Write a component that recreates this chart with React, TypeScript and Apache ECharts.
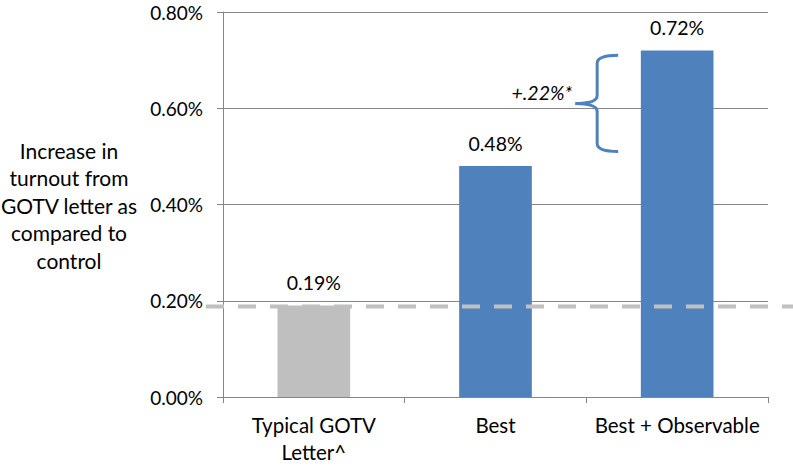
import React, { useEffect, useRef } from 'react';
import * as echarts from 'echarts';

const categories = ['Typical GOTV\nLetter^', 'Best', 'Best + Observable'];
const values = [0.19, 0.48, 0.72];
const barColors = ['#bfbfbf', '#4f81bd', '#4f81bd'];
const yMin = 0;
const yMax = 0.8;
const yInterval = 0.2;
const baselineValue = 0.19;
const braceRange = [0.51, 0.71];
const braceLabel = '+.22%*';
const yTitle = 'Increase in\nturnout from\nGOTV letter as\ncompared to\ncontrol';

const FONT = 'Lato, "Noto Sans", sans-serif';

export default function App() {
  const ref = useRef<HTMLDivElement>(null);
  useEffect(() => {
    document.body.style.margin = '0';
    if (!ref.current) return;
    const chart = echarts.init(ref.current, null, { renderer: 'svg' });
    chart.setOption({
      animation: false,
      grid: { left: 223, right: 25, top: 12, bottom: 71, containLabel: false },
      xAxis: {
        type: 'category',
        data: categories,
        axisLine: { lineStyle: { color: '#868686', width: 1 } },
        axisTick: { show: true, length: 6, lineStyle: { color: '#868686' } },
        axisLabel: { interval: 0, color: '#000', fontFamily: FONT, fontSize: 20.5, lineHeight: 27, margin: 14 },
      },
      yAxis: {
        type: 'value',
        min: yMin,
        max: yMax,
        interval: yInterval,
        axisLine: { show: true, lineStyle: { color: '#868686', width: 1 } },
        axisTick: { show: true, length: 6, lineStyle: { color: '#868686' } },
        splitLine: { lineStyle: { color: '#868686', width: 1 } },
        axisLabel: {
          color: '#000', fontFamily: FONT, fontSize: 19, margin: 20,
          formatter: (v: number) => v.toFixed(2) + '%',
        },
      },
      series: [
        {
          type: 'bar',
          barWidth: '40%',
          data: values.map((v, i) => ({ value: v, itemStyle: { color: barColors[i] } })),
          label: {
            show: true, position: 'top', distance: 13, color: '#000',
            fontFamily: FONT, fontSize: 19.5,
            formatter: (p: any) => Number(p.value).toFixed(2) + '%',
          },
        },
      ],
    });

    const yBase = chart.convertToPixel({ yAxisIndex: 0 }, baselineValue) as number;
    const yTop = chart.convertToPixel({ yAxisIndex: 0 }, braceRange[1]) as number;
    const yBot = chart.convertToPixel({ yAxisIndex: 0 }, braceRange[0]) as number;
    const xCat = chart.convertToPixel({ xAxisIndex: 0 }, 2) as number;
    const bx = xCat - 80;
    const h = yBot - yTop;
    const hook = 21;
    const tip = 22;
    const r = 8;
    const m = h / 2;
    const d = `M ${hook} 0 Q 0 0 0 ${r} L 0 ${m - r} Q 0 ${m} ${-tip} ${m} Q 0 ${m} 0 ${m + r} L 0 ${h - r} Q 0 ${h} ${hook} ${h}`;
    echarts.graphic.registerShape('brace', echarts.graphic.extendPath(d, {}) as any);

    chart.setOption({
      graphic: [
        {
          type: 'line',
          shape: { x1: 206, y1: yBase + 1, x2: 793, y2: yBase + 1 },
          style: { stroke: '#c0c0c0', lineWidth: 4, lineDash: [18, 14] },
          z: 100,
        },
        {
          type: 'brace',
          x: bx,
          y: yTop,
          style: { stroke: '#4f81bd', lineWidth: 3, fill: 'none' },
          z: 100,
        },
        {
          type: 'text',
          x: bx - 25,
          y: yTop + m - 11,
          style: {
            text: braceLabel, font: `italic 19.5px ${FONT}`, fill: '#000',
            textAlign: 'right', textVerticalAlign: 'middle',
          },
          z: 100,
        },
        {
          type: 'text',
          x: 69,
          y: 205,
          style: {
            text: yTitle, fontFamily: FONT, fontSize: 21, lineHeight: 27.5, fill: '#000',
            textAlign: 'center', textVerticalAlign: 'middle', align: 'center', verticalAlign: 'middle',
          },
        },
      ],
    });

    return () => chart.dispose();
  }, []);
  return <div ref={ref} style={{ width: 793, height: 468 }} />;
}
